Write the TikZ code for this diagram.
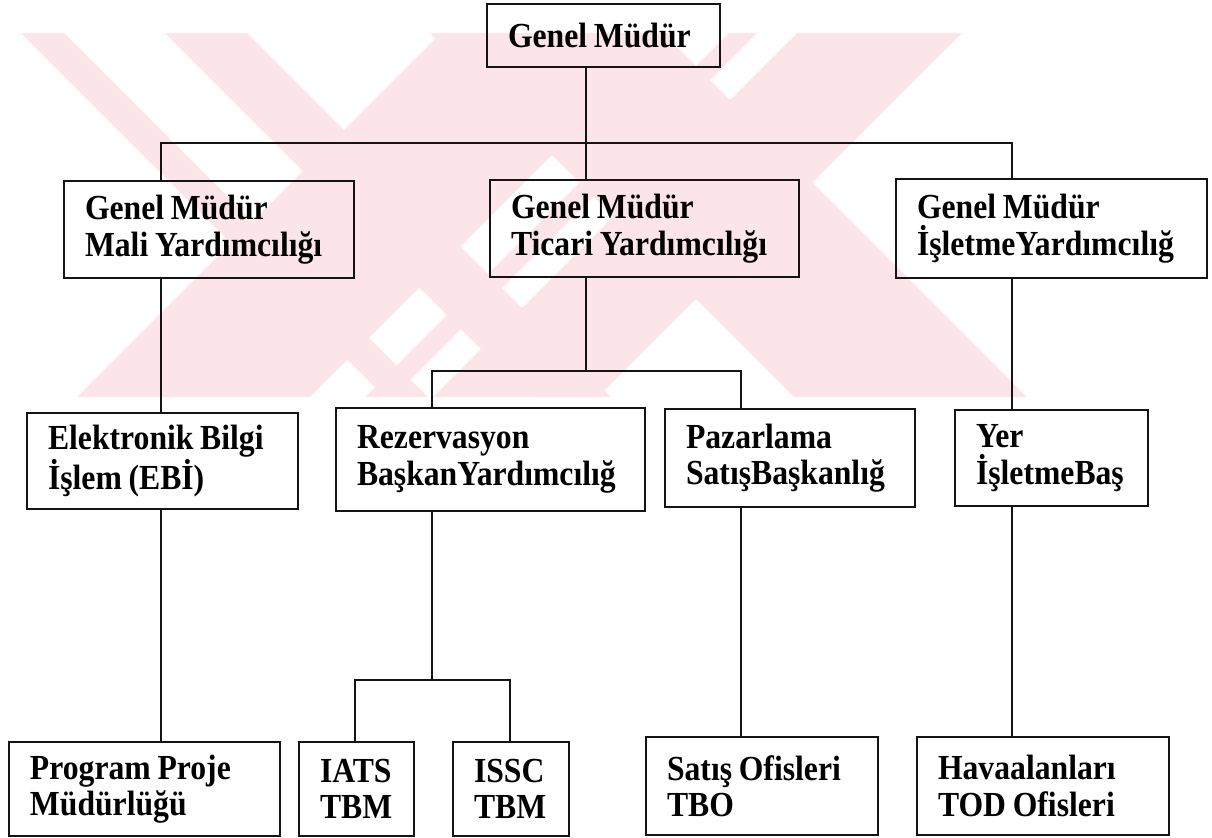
\documentclass[tikz,border=0pt]{standalone}
\usepackage{fontspec}
\setmainfont{Liberation Serif}[FakeStretch=0.9]
\definecolor{ink}{RGB}{20,20,20}
\definecolor{wmpink}{RGB}{252,229,233}
\usepackage{tikz}
\usetikzlibrary{calc}
\newcommand\unitfont{\fontsize{17.6pt}{18.2pt}\selectfont\bfseries}
\newcommand\tightspace{\spaceskip 0.19em plus 0.05em\relax}
\tikzset{
  unit/.style={draw=ink, line width=1pt, text width=#1, align=left,
               inner xsep=10.5pt, inner ysep=1pt, font=\unitfont,
               execute at begin node=\tightspace},
  link/.style={ink, line width=1pt},
  wm/.style={fill=wmpink, draw=none},
}
\begin{document}
\begin{tikzpicture}[x=0.5pt,y=-0.5pt]
        \useasboundingbox (0,0) rectangle (1212,837);
        % watermark bands
        \fill[wm] (21,33) -- (64,33) -- (428,397) -- (385,397) -- cycle;
        \fill[wm] (165,33) -- (247,33) -- (611,397) -- (529,397) -- cycle;
        \fill[wm] (441,33) -- (674,33) -- (310,397) -- (77,397) -- cycle;
        \fill[wm] (430,33) -- (663,33) -- (1027,397) -- (794,397) -- cycle;
        \fill[wm] (729,33) -- (757,33) -- (393,397) -- (365,397) -- cycle;
        \fill[wm] (797,33) -- (962,33) -- (598,397) -- (433,397) -- cycle;
        % units
        \node[unit=95.5pt,minimum height=31.5pt](gm) at (603.5,35.5){Genel Müdür};
        \node[unit=124pt,minimum height=48.5pt](mali) at (209,229.5){Genel Müdür\\Mali Yardımcılığı};
        \node[unit=133.5pt,minimum height=48.5pt](ticari) at (644.5,228.5){Genel Müdür\\Ticari Yardımcılığı};
        \node[unit=134.5pt,minimum height=49.5pt](isl) at (1051.5,228.5){Genel Müdür\\İşletmeYardımcılığ};
        \node[unit=114.5pt,minimum height=48pt](ebi) at (162.5,461){Elektronik Bilgi\\İşlem (EBİ)};
        \node[unit=133.5pt,minimum height=51.5pt](rez) at (490.5,459.5){Rezervasyon\\BaşkanYardımcılığ};
        \node[unit=104pt,minimum height=49pt](paz) at (790,458){Pazarlama\\SatışBaşkanlığ};
        \node[unit=75.5pt,minimum height=48pt](yer) at (1051.5,458){Yer\\İşletmeBaş};
        \node[unit=114.5pt,minimum height=47pt](prog) at (144.5,789){Program Proje\\Müdürlüğü};
        \node[unit=36.5pt,minimum height=47pt](iats) at (356.5,789){IATS\\TBM};
        \node[unit=37pt,minimum height=47pt](issc) at (511,789){ISSC\\TBM};
        \node[unit=95pt,minimum height=49pt](satis) at (762,786){Satış Ofisleri\\TBO};
        \node[unit=105pt,minimum height=49pt](hava) at (1043,786){Havaalanları\\TOD Ofisleri};
        % junctions
        \coordinate (b1) at (586,143);
        \coordinate (b1l) at (161,143);
        \coordinate (b1r) at (1012,143);
        \coordinate (b2) at (586,371);
        \coordinate (b2l) at (432,371);
        \coordinate (b2r) at (741,371);
        \coordinate (b3) at (432,680);
        \coordinate (b3l) at (355,680);
        \coordinate (b3r) at (510,680);
        % connectors
        \draw[link](gm.south -| b1)--(b1);
        \draw[link](b1l |- mali.north)--(b1l)--(b1r)--(b1r |- isl.north);
        \draw[link](b1)--(b1 |- ticari.north);
        \draw[link](mali.south -| b1l)--(ebi.north -| b1l);
        \draw[link](ebi.south -| b1l)--(prog.north -| b1l);
        \draw[link](ticari.south -| b2)--(b2);
        \draw[link](b2l |- rez.north)--(b2l)--(b2r)--(b2r |- paz.north);
        \draw[link](rez.south -| b3)--(b3);
        \draw[link](b3l |- iats.north)--(b3l)--(b3r)--(b3r |- issc.north);
        \draw[link](paz.south -| b2r)--(satis.north -| b2r);
        \draw[link](isl.south -| b1r)--(yer.north -| b1r);
        \draw[link](yer.south -| b1r)--(hava.north -| b1r);
      \end{tikzpicture}
\end{document}
